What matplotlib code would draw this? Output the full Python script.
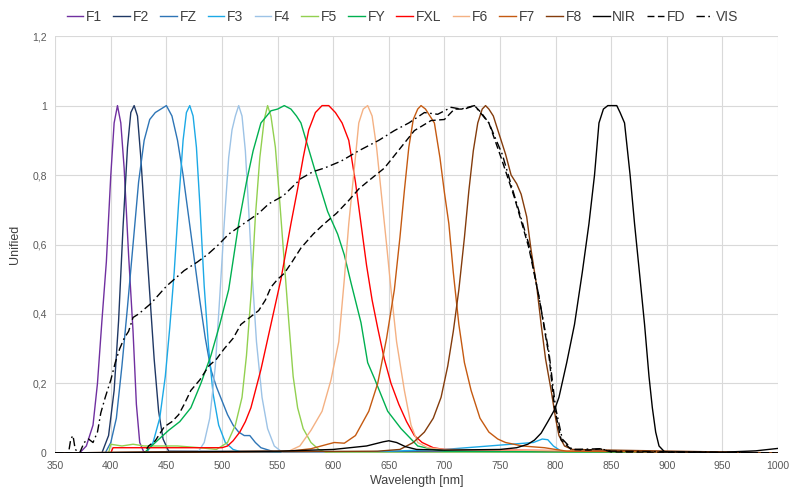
import matplotlib
matplotlib.use("Agg")
import matplotlib.pyplot as plt
from matplotlib.ticker import FuncFormatter, MultipleLocator

plt.rcParams['font.family'] = ['Liberation Sans', 'DejaVu Sans']

# Values (wavelength in nm, unified response)
f1_nm = [350, 372, 378, 384, 388, 392, 396, 400, 403, 406, 409, 412, 416, 420, 423, 426, 430, 1000]
f1 = [0, 0, 0.02, 0.08, 0.2, 0.38, 0.55, 0.8, 0.95, 1.0, 0.95, 0.82, 0.57, 0.35, 0.14, 0.03, 0, 0]

f2_nm = [350, 392, 398, 403, 407, 411, 415, 418, 421, 424, 427, 431, 435, 439, 443, 447, 452, 1000]
f2 = [0, 0, 0.05, 0.18, 0.38, 0.65, 0.88, 0.98, 1.0, 0.97, 0.85, 0.65, 0.46, 0.27, 0.12, 0.04, 0.005, 0]

fz_nm = [350, 395, 400, 405, 410, 415, 420, 425, 430, 435, 440, 445, 450, 455, 460, 465, 470,
         475, 480, 485, 490, 495, 500, 505, 510, 515, 520, 525, 530, 535, 540, 550, 1000]
fz = [0, 0, 0.03, 0.1, 0.25, 0.42, 0.6, 0.78, 0.9, 0.96, 0.98, 0.99, 1.0, 0.97, 0.9, 0.8, 0.68,
      0.56, 0.44, 0.33, 0.24, 0.19, 0.15, 0.11, 0.08, 0.06, 0.05, 0.05, 0.03, 0.015, 0.01, 0, 0]

f3_nm = [350, 432, 438, 444, 449, 453, 457, 461, 465, 468, 471, 474, 477, 480, 484, 488, 492, 497,
         503, 510, 520, 600, 650, 700, 740, 760, 780, 788, 793, 798, 805, 1000]
f3 = [0, 0, 0.03, 0.1, 0.22, 0.36, 0.52, 0.72, 0.9, 0.98, 1.0, 0.97, 0.88, 0.72, 0.48, 0.3, 0.17, 0.08,
      0.03, 0.01, 0, 0, 0.005, 0.01, 0.02, 0.025, 0.03, 0.04, 0.038, 0.02, 0.005, 0]

f4_nm = [350, 478, 484, 489, 494, 498, 502, 506, 509, 512, 515, 518, 521, 524, 527, 531, 536, 541, 547, 555, 1000]
f4 = [0, 0, 0.03, 0.1, 0.25, 0.45, 0.66, 0.85, 0.93, 0.97, 1.0, 0.97, 0.87, 0.7, 0.52, 0.32, 0.16, 0.07, 0.02, 0, 0]

f5_nm = [350, 398, 400, 410, 420, 430, 440, 460, 480, 495, 505, 512, 518, 522, 526, 530, 534, 538, 541,
         544, 548, 552, 556, 560, 564, 568, 573, 580, 587, 595, 1000]
f5 = [0, 0, 0.025, 0.02, 0.025, 0.02, 0.02, 0.02, 0.015, 0.01, 0.03, 0.08, 0.16, 0.28, 0.45, 0.68, 0.85, 0.96, 1.0,
      0.97, 0.88, 0.72, 0.55, 0.38, 0.22, 0.13, 0.07, 0.03, 0.01, 0, 0]

fy_nm = [350, 430, 440, 452, 462, 472, 481, 490, 498, 506, 515, 522, 528, 535, 544, 550, 556, 562, 567,
         571, 583, 595, 604, 610, 616, 625, 631, 637, 649, 661, 676, 690, 700, 1000]
fy = [0, 0, 0.03, 0.065, 0.09, 0.13, 0.2, 0.28, 0.37, 0.47, 0.66, 0.78, 0.87, 0.95, 0.985, 0.99, 1.0, 0.99, 0.97,
      0.95, 0.82, 0.695, 0.63, 0.57, 0.49, 0.375, 0.26, 0.215, 0.12, 0.07, 0.02, 0.01, 0.005, 0]

fxl_nm = [350, 400, 402, 500, 505, 510, 516, 521, 526, 535, 544, 553, 562, 568, 573, 578, 584, 590, 596,
          602, 608, 614, 620, 625, 630, 635, 640, 646, 652, 659, 666, 673, 680, 690, 700, 1000]
fxl = [0, 0, 0.015, 0.015, 0.02, 0.035, 0.06, 0.09, 0.13, 0.24, 0.37, 0.5, 0.66, 0.76, 0.85, 0.93, 0.98, 1.0, 1.0,
       0.98, 0.95, 0.9, 0.78, 0.66, 0.54, 0.44, 0.36, 0.27, 0.2, 0.14, 0.09, 0.05, 0.03, 0.015, 0.01, 0]

f6_nm = [350, 560, 570, 580, 590, 598, 605, 610, 614, 619, 623, 627, 631, 635, 639, 643, 648, 652, 657,
         664, 670, 676, 685, 700, 1000]
f6 = [0, 0.005, 0.02, 0.065, 0.12, 0.21, 0.32, 0.5, 0.66, 0.82, 0.95, 0.99, 1.0, 0.97, 0.88, 0.755, 0.6, 0.47, 0.32,
      0.18, 0.08, 0.03, 0.015, 0.01, 0]

f7_nm = [350, 560, 580, 595, 601, 610, 620, 632, 640, 648, 655, 660, 664, 668, 672, 676, 679, 683, 687, 691,
         696, 700, 704, 708, 713, 718, 724, 732, 740, 748, 755, 770, 790, 800, 810, 1000]
f7 = [0, 0.005, 0.012, 0.025, 0.03, 0.028, 0.05, 0.12, 0.2, 0.33, 0.47, 0.62, 0.755, 0.88, 0.96, 0.99, 1.0, 0.99, 0.97, 0.95,
      0.85, 0.75, 0.66, 0.52, 0.37, 0.26, 0.18, 0.1, 0.06, 0.04, 0.03, 0.02, 0.015, 0.01, 0.005, 0]

f8_nm = [350, 640, 660, 672, 682, 690, 697, 703, 708, 713, 718, 722, 726, 730, 734, 737, 740, 744, 749, 755,
         760, 765, 769, 774, 778, 783, 787, 791, 796, 800, 803, 808, 815, 1000]
f8 = [0, 0.005, 0.01, 0.03, 0.06, 0.1, 0.16, 0.25, 0.35, 0.47, 0.62, 0.755, 0.87, 0.95, 0.99, 1.0, 0.99, 0.97, 0.92, 0.86,
      0.8, 0.775, 0.745, 0.68, 0.583, 0.48, 0.37, 0.27, 0.18, 0.1, 0.05, 0.02, 0.01, 0]

nir_nm = [350, 550, 600, 630, 645, 650, 657, 665, 675, 700, 750, 765, 775, 781, 787, 793, 799, 803, 810, 817,
          824, 830, 835, 839, 843, 847, 851, 855, 858, 862, 867, 871, 876, 880, 884, 887, 890, 893, 898, 950, 980, 1000]
nir = [0, 0.005, 0.01, 0.02, 0.032, 0.035, 0.03, 0.018, 0.01, 0.008, 0.01, 0.015, 0.025, 0.037, 0.057, 0.09, 0.124, 0.16, 0.26, 0.37,
       0.52, 0.66, 0.8, 0.95, 0.99, 1.0, 1.0, 1.0, 0.98, 0.95, 0.8, 0.66, 0.5, 0.37, 0.22, 0.13, 0.06, 0.02, 0.003, 0.002, 0.006, 0.013]

fd_nm = [350, 430, 434, 440, 448, 455, 461, 466, 472, 480, 488, 495, 502, 510, 517, 525, 533, 539, 544, 550,
         556, 563, 571, 582, 592, 603, 614, 623, 632, 646, 661, 673, 688, 700, 709, 718, 727, 733, 740, 751,
         763, 776, 785, 794, 799, 805, 814, 830, 840, 850, 1000]
fd = [0, 0, 0.02, 0.035, 0.075, 0.09, 0.11, 0.14, 0.18, 0.21, 0.25, 0.27, 0.3, 0.33, 0.37, 0.39, 0.41, 0.44, 0.477, 0.5,
      0.517, 0.55, 0.59, 0.63, 0.66, 0.69, 0.727, 0.76, 0.784, 0.82, 0.88, 0.928, 0.957, 0.96, 0.99, 0.99, 1.0, 0.98, 0.95, 0.85,
      0.735, 0.59, 0.45, 0.28, 0.13, 0.037, 0.01, 0.008, 0.012, 0.003, 0]

vis_nm = [350, 362, 364, 366, 368, 372, 376, 380, 384, 388, 391, 395, 400, 404, 408, 412, 416, 420, 425, 436,
          450, 466, 478, 488, 497, 506, 515, 524, 533, 542, 555, 571, 582, 592, 607, 623, 641, 655, 668, 682,
          694, 706, 715, 727, 740, 752, 763, 776, 785, 794, 800, 806, 815, 840, 850, 1000]
vis = [0, 0, 0.04, 0.05, 0.01, 0, 0.03, 0.04, 0.03, 0.06, 0.115, 0.16, 0.21, 0.26, 0.3, 0.33, 0.35, 0.39, 0.4, 0.43,
       0.48, 0.525, 0.55, 0.574, 0.6, 0.63, 0.65, 0.67, 0.69, 0.717, 0.74, 0.79, 0.81, 0.82, 0.84, 0.87, 0.9, 0.928, 0.95, 0.98,
       0.975, 0.995, 0.99, 1.0, 0.95, 0.86, 0.74, 0.6, 0.45, 0.29, 0.13, 0.04, 0.01, 0.012, 0.005, 0]

series = [
    ("F1", f1_nm, f1, "#7030A0", "-"),
    ("F2", f2_nm, f2, "#1F3864", "-"),
    ("FZ", fz_nm, fz, "#2E75B6", "-"),
    ("F3", f3_nm, f3, "#1CA9E6", "-"),
    ("F4", f4_nm, f4, "#9DC3E6", "-"),
    ("F5", f5_nm, f5, "#92D050", "-"),
    ("FY", fy_nm, fy, "#00B050", "-"),
    ("FXL", fxl_nm, fxl, "#FF0000", "-"),
    ("F6", f6_nm, f6, "#F4B183", "-"),
    ("F7", f7_nm, f7, "#C55A11", "-"),
    ("F8", f8_nm, f8, "#843C0C", "-"),
    ("NIR", nir_nm, nir, "#000000", "-"),
    ("FD", fd_nm, fd, "#000000", (0, (5, 2.5))),
    ("VIS", vis_nm, vis, "#000000", (0, (6, 2.5, 1.2, 2.5))),
]

fig, ax = plt.subplots(figsize=(8, 4.95), dpi=100)
fig.subplots_adjust(left=0.069, right=0.9725, top=0.927, bottom=0.085)

for name, xs, ys, color, ls in series:
    ax.plot(xs, ys, color=color, linestyle=ls, linewidth=1.0, label=name)

ax.set_xlim(350, 1000)
ax.set_ylim(0, 1.2)
ax.xaxis.set_major_locator(MultipleLocator(50))
ax.yaxis.set_major_locator(MultipleLocator(0.2))
ax.yaxis.set_major_formatter(FuncFormatter(lambda v, p: f"{v:.1f}".rstrip('0').rstrip('.').replace('.', ',')))
ax.grid(True, color="#D9D9D9", linewidth=0.8)
ax.set_axisbelow(True)
for s in ax.spines.values():
    s.set_visible(False)
ax.tick_params(length=0, labelsize=7.5, colors="#595959", pad=6)

ax.set_xlabel("Wavelength [nm]", fontsize=9, color="#404040", labelpad=3)
ax.set_ylabel("Unified", fontsize=9, color="#404040", labelpad=8)

fig.legend(loc="upper center", bbox_to_anchor=(0.503, 1.005), ncol=14, frameon=False,
           fontsize=10, handlelength=1.2, handletextpad=0.2, columnspacing=0.8,
           labelcolor="#404040")

fig.savefig("out.png", dpi=100)
